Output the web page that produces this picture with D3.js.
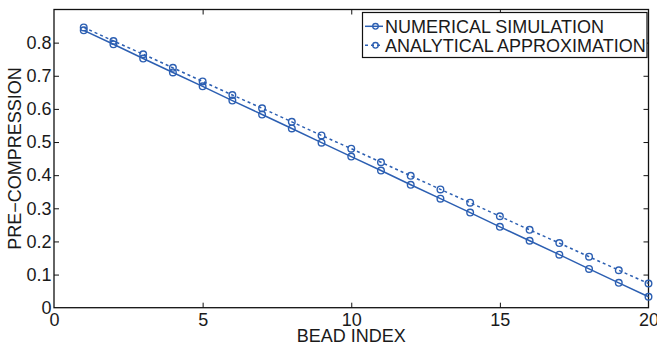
<!DOCTYPE html>
<html><head><meta charset="utf-8">
<script src="https://cdn.jsdelivr.net/npm/d3@7"></script>
<style>body{margin:0;background:#fff}svg{display:block}text{font-family:Arial,"Liberation Sans",Helvetica,sans-serif;fill:#1a1a1a}</style>
</head><body><svg id="c" width="657" height="345"></svg>
<script>
const beadIndex = [1,2,3,4,5,6,7,8,9,10,11,12,13,14,15,16,17,18,19,20];
const numerical = [0.837,0.795,0.752,0.710,0.668,0.625,0.583,0.541,0.498,0.456,0.414,0.371,0.329,0.287,0.244,0.202,0.160,0.117,0.075,0.033];
const analytical = [0.846,0.805,0.765,0.724,0.683,0.642,0.602,0.561,0.520,0.480,0.439,0.398,0.357,0.317,0.276,0.235,0.195,0.154,0.113,0.073];
const xTicks = [0,5,10,15,20];
const yTicks = [0,0.1,0.2,0.3,0.4,0.5,0.6,0.7,0.8];
const seriesNames = ["NUMERICAL SIMULATION","ANALYTICAL APPROXIMATION"];

const color = "#2c5fb2";
const svg = d3.select("#c");
const L=54, R=648.5, T=9.5, B=307.7;
const x = d3.scaleLinear().domain([0,20]).range([L,R]);
const y = d3.scaleLinear().domain([0,0.9]).range([B,T]);

svg.append("rect").attr("x",L).attr("y",T).attr("width",R-L).attr("height",B-T)
  .attr("fill","none").attr("stroke","#111").attr("stroke-width",1.3);

const fmtY = d => d===0 ? "0" : d3.format(".1f")(d);
const gx = svg.append("g").attr("transform",`translate(0,${B})`)
  .call(d3.axisBottom(x).tickValues(xTicks).tickSize(-5).tickPadding(5.5).tickFormat(d3.format("d")));
const gy = svg.append("g").attr("transform",`translate(${L},0)`)
  .call(d3.axisLeft(y).tickValues(yTicks).tickSize(-5).tickPadding(2.5).tickFormat(fmtY));
const gx2 = svg.append("g").attr("transform",`translate(0,${T})`)
  .call(d3.axisTop(x).tickValues(xTicks).tickSize(-5).tickFormat(""));
const gy2 = svg.append("g").attr("transform",`translate(${R},0)`)
  .call(d3.axisRight(y).tickValues(yTicks).tickSize(-5).tickFormat(""));
[gx,gy,gx2,gy2].forEach(g=>{
  g.select(".domain").remove();
  g.selectAll(".tick line").attr("stroke","#111").attr("stroke-width",1);
  g.selectAll("text").attr("font-size",18).attr("fill","#1a1a1a").attr("font-family","Arial, 'Liberation Sans', sans-serif");
});
gx.selectAll(".tick").filter(d=>d===0||d===20).select("line").remove();
gx2.selectAll(".tick").filter(d=>d===0||d===20).select("line").remove();
gy.selectAll(".tick").filter(d=>d===0).select("line").remove();
gy2.selectAll(".tick").filter(d=>d===0).select("line").remove();

const line = d3.line().x((d,i)=>x(beadIndex[i])).y(d=>y(d));
function drawSeries(vals, dash){
  svg.append("path").datum(vals).attr("d",line).attr("fill","none")
    .attr("stroke",color).attr("stroke-width",1.5).attr("stroke-dasharray",dash);
  svg.append("g").selectAll("circle").data(vals).join("circle")
    .attr("cx",(d,i)=>x(beadIndex[i])).attr("cy",d=>y(d)).attr("r",3.3)
    .attr("fill","none").attr("stroke",color).attr("stroke-width",1.4);
}
drawSeries(numerical, null);
drawSeries(analytical, "3,3");

svg.append("text").attr("x",(L+R)/2).attr("y",342).attr("text-anchor","middle")
  .attr("font-size",18).text("BEAD INDEX");
svg.append("text").attr("transform",`translate(20.5,${(T+B)/2}) rotate(-90)`).attr("text-anchor","middle")
  .attr("font-size",18).text("PRE\u2212COMPRESSION");

const lg = svg.append("g");
lg.append("rect").attr("x",362.5).attr("y",12.5).attr("width",284.5).attr("height",45)
  .attr("fill","#fff").attr("stroke","#111").attr("stroke-width",1.2);
const ly = [26.3, 45.3];
seriesNames.forEach((name,i)=>{
  lg.append("line").attr("x1",365).attr("x2",383).attr("y1",ly[i]).attr("y2",ly[i])
    .attr("stroke",color).attr("stroke-width",1.5).attr("stroke-dasharray",i===1?"3,3":null);
  lg.append("circle").attr("cx",375.5).attr("cy",ly[i]).attr("r",2.8).attr("fill","none")
    .attr("stroke",color).attr("stroke-width",1.3);
  lg.append("text").attr("x",385).attr("y",ly[i]+6.4).attr("font-size",18).text(name);
});
</script></body></html>
